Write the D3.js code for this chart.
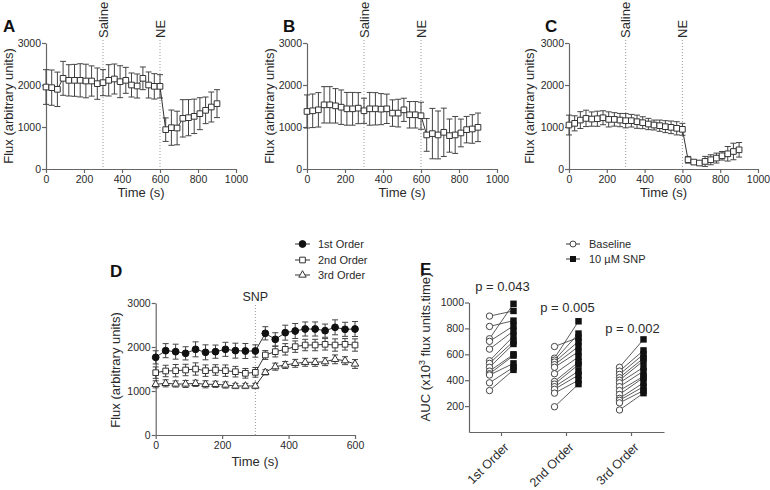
<!DOCTYPE html>
<html><head><meta charset="utf-8">
<script src="https://cdn.jsdelivr.net/npm/d3@7"></script>
<style>body{margin:0;background:#fff} text{font-family:"Liberation Sans",Arial,sans-serif}</style>
</head><body><svg id="c" width="770" height="490"></svg>
<script>
// ---------- DATA ----------
const timesABC = [0,30,60,90,120,150,180,210,240,270,300,330,360,390,420,450,480,510,540,570,600,630,660,690,720,750,780,810,840,870,900];
const fluxA = [1952,1937,1897,2159,2111,2111,2111,2095,2095,2032,2056,2111,2143,2079,2111,2000,1976,2159,2000,1968,1968,937,984,976,1206,1222,1254,1317,1397,1476,1556];
const errA  = [413,420,410,404,373,380,395,400,360,373,310,373,357,380,309,286,286,270,310,302,278,280,420,400,445,430,410,380,317,357,333];
const fluxB = [1370,1386,1409,1528,1528,1504,1472,1433,1433,1449,1386,1433,1433,1425,1433,1331,1331,1409,1291,1291,1268,811,843,811,874,795,811,858,937,953,992];
const errB  = [394,400,410,433,433,410,410,390,390,370,300,390,385,370,350,315,330,276,315,315,322,390,600,570,575,395,440,330,315,340,340];
const fluxC = [1047,1087,1165,1205,1189,1197,1220,1181,1181,1165,1150,1150,1126,1102,1071,1047,1031,1008,992,969,945,220,165,142,181,220,260,315,362,417,457];
const errC  = [236,180,200,195,170,180,166,180,160,158,170,150,157,142,134,118,134,142,150,157,142,80,40,30,119,119,118,102,173,197,173];
const eventsABC = [{t:300,label:"Saline"},{t:600,label:"NE"}];

const timesD = [0,30,60,90,120,150,180,210,240,270,300,330,360,390,420,450,480,510,540,570,600];
const order1 = [1765,1917,1894,1856,1947,1879,1894,1947,1917,1909,1909,2311,2174,2326,2364,2409,2409,2371,2447,2402,2409];
const err1   = [150,160,170,150,170,170,150,160,170,170,140,150,150,170,170,160,160,150,170,160,170];
const order2 = [1417,1455,1462,1477,1500,1462,1477,1462,1439,1402,1424,1818,1894,1947,2008,2045,2045,2061,2045,2061,2045];
const err2   = [130,130,140,130,140,130,120,130,120,110,110,100,120,130,130,130,130,130,140,130,140];
const order3 = [1152,1174,1159,1159,1174,1152,1152,1136,1114,1114,1114,1424,1553,1591,1629,1652,1652,1667,1720,1689,1614];
const err3   = [80,80,70,80,70,80,70,70,60,60,60,60,80,80,90,90,90,90,100,90,100];
const seriesDNames = ["1st Order","2nd Order","3rd Order"];

const categoriesE = ["1st Order","2nd Order","3rd Order"];
const base1 = [895,815,720,700,640,550,530,500,470,450,440,380,320];
const snp1  = [935,860,990,820,780,740,700,680,600,590,530,500,480];
const base2 = [660,570,555,540,520,500,450,390,370,350,330,300,195];
const snp2  = [730,855,760,700,660,620,580,540,520,470,440,400,370];
const base3 = [500,470,445,420,400,380,350,320,290,260,245,225,170];
const snp3  = [715,630,600,570,550,500,470,430,420,380,350,320,300];
const pLabels = ["p = 0.043","p = 0.005","p = 0.002"];
const legendE = ["Baseline","10 \u00b5M SNP"];

const ticksABCx = [0,200,400,600,800,1000];
const ticksFlux = [0,1000,2000,3000];
const ticksDx = [0,200,400,600];
const ticksE = [200,400,600,800,1000];

// ---------- HELPERS ----------
const svg = d3.select("#c");
const TXT = "#2a2a2a", AX = "#666", LN = "#333";
const fmt = d3.format("d");

function styleAxis(g, fs){
  g.select(".domain").attr("stroke",AX).attr("stroke-width",1.2);
  g.selectAll(".tick line").attr("stroke",AX).attr("stroke-width",1.2);
  g.selectAll(".tick text").attr("fill",TXT).attr("font-size",fs||10).attr("font-family",null);
}
const sq = d3.symbol().type(d3.symbolSquare).size(32);
const tri = d3.symbol().type(d3.symbolTriangle).size(24);

function marker(sel, type){
  if(type==="circleFill") sel.append("circle").attr("r",3.4).attr("fill","#111").attr("stroke","#111");
  else if(type==="square") sel.append("path").attr("d",sq).attr("fill","#fff").attr("stroke",LN).attr("stroke-width",1);
  else if(type==="tri") sel.append("path").attr("d",tri).attr("fill","#fff").attr("stroke",LN).attr("stroke-width",1);
}

function drawSeries(g, x, y, times, vals, errs, type){
  const cap = 3;
  const eb = g.append("g");
  times.forEach((t,i)=>{
    const cx = x(t), top = y(vals[i]+errs[i]), bot = y(vals[i]-errs[i]);
    eb.append("line").attr("x1",cx).attr("x2",cx).attr("y1",top).attr("y2",bot).attr("stroke","#444").attr("stroke-width",1);
    eb.append("line").attr("x1",cx-cap).attr("x2",cx+cap).attr("y1",top).attr("y2",top).attr("stroke","#444").attr("stroke-width",1);
    eb.append("line").attr("x1",cx-cap).attr("x2",cx+cap).attr("y1",bot).attr("y2",bot).attr("stroke","#444").attr("stroke-width",1);
  });
  g.append("path").attr("d", d3.line().x((d,i)=>x(times[i])).y(d=>y(d))(vals))
    .attr("fill","none").attr("stroke",LN).attr("stroke-width",1);
  times.forEach((t,i)=>{
    const m = g.append("g").attr("transform",`translate(${x(t)},${y(vals[i])})`);
    marker(m,type);
  });
}

function yTitle(xp, yc, txt){
  svg.append("text").attr("transform",`translate(${xp},${yc}) rotate(-90)`)
    .attr("text-anchor","middle").attr("font-size",13).attr("fill",TXT).text(txt);
}

// ---------- PANELS A-C ----------
const panelsABC = [
  {letter:"A", lx:3,   xr:[46,236],  flux:fluxA, err:errA, ytx:13},
  {letter:"B", lx:283, xr:[307,497], flux:fluxB, err:errB, ytx:274},
  {letter:"C", lx:545, xr:[569,758], flux:fluxC, err:errC, ytx:534}
];
panelsABC.forEach(p=>{
  const x = d3.scaleLinear().domain([0,1000]).range(p.xr);
  const y = d3.scaleLinear().domain([0,3000]).range([169,43]);
  const g = svg.append("g");
  eventsABC.forEach(ev=>{
    g.append("line").attr("x1",x(ev.t)).attr("x2",x(ev.t)).attr("y1",40).attr("y2",169)
      .attr("stroke","#999").attr("stroke-width",1).attr("stroke-dasharray","1,2");
    g.append("text").attr("transform",`translate(${x(ev.t)},38) rotate(-90)`)
      .attr("dy","0.36em").attr("font-size",13).attr("fill",TXT).text(ev.label);
  });
  const gx = g.append("g").attr("transform","translate(0,169)")
    .call(d3.axisBottom(x).tickValues(ticksABCx).tickFormat(fmt).tickSize(4).tickPadding(3).tickSizeOuter(0));
  styleAxis(gx,10.5);
  const gy = g.append("g").attr("transform",`translate(${p.xr[0]},0)`)
    .call(d3.axisLeft(y).tickValues(ticksFlux).tickFormat(fmt).tickSize(4).tickPadding(1).tickSizeOuter(0));
  styleAxis(gy,10.5);
  drawSeries(g, x, y, timesABC, p.flux, p.err, "square");
  g.append("text").attr("x",(p.xr[0]+p.xr[1])/2).attr("y",197).attr("text-anchor","middle")
    .attr("font-size",13).attr("fill",TXT).text("Time (s)");
  g.append("text").attr("x",p.lx).attr("y",32).attr("font-size",17).attr("font-weight","bold").attr("fill","#111").text(p.letter);
  yTitle(p.ytx, 106, "Flux (arbitrary units)");
});

// ---------- PANEL D ----------
{
  const x = d3.scaleLinear().domain([0,600]).range([155.7,355]);
  const y = d3.scaleLinear().domain([0,3000]).range([435,303]);
  const g = svg.append("g");
  g.append("line").attr("x1",x(300)).attr("x2",x(300)).attr("y1",305).attr("y2",435)
    .attr("stroke","#999").attr("stroke-dasharray","1,2");
  g.append("text").attr("x",x(300)).attr("y",301).attr("text-anchor","middle").attr("font-size",12.5).attr("fill",TXT).text("SNP");
  const gx = g.append("g").attr("transform","translate(0,435)")
    .call(d3.axisBottom(x).tickValues(ticksDx).tickFormat(fmt).tickSize(4).tickPadding(3).tickSizeOuter(0));
  styleAxis(gx,10.5);
  const gy = g.append("g").attr("transform","translate(155.7,0)")
    .call(d3.axisLeft(y).tickValues(ticksFlux).tickFormat(fmt).tickSize(4).tickPadding(1).tickSizeOuter(0));
  styleAxis(gy,10.5);
  drawSeries(g, x, y, timesD, order3, err3, "tri");
  drawSeries(g, x, y, timesD, order2, err2, "square");
  drawSeries(g, x, y, timesD, order1, err1, "circleFill");
  g.append("text").attr("x",255).attr("y",466).attr("text-anchor","middle").attr("font-size",13).attr("fill",TXT).text("Time (s)");
  g.append("text").attr("x",110).attr("y",277).attr("font-size",17).attr("font-weight","bold").attr("fill","#111").text("D");
  yTitle(120, 370, "Flux (arbitrary units)");
  const types = ["circleFill","square","tri"];
  const rows = [244,260,275];
  seriesDNames.forEach((n,i)=>{
    g.append("line").attr("x1",295).attr("x2",310).attr("y1",rows[i]).attr("y2",rows[i]).attr("stroke",LN);
    marker(g.append("g").attr("transform",`translate(302.5,${rows[i]})`), types[i]);
    g.append("text").attr("x",318).attr("y",rows[i]).attr("dy","0.35em").attr("font-size",11).attr("fill",TXT).text(n);
  });
}

// ---------- PANEL E ----------
{
  const x = d3.scaleBand().domain(categoriesE).range([469,664]);
  const y = d3.scaleLinear().domain([0,1000]).range([432,302.5]);
  const g = svg.append("g");
  const gx = g.append("g").attr("transform","translate(0,432)")
    .call(d3.axisBottom(x).tickSize(4).tickPadding(3).tickSizeOuter(0));
  styleAxis(gx,12.5);
  gx.selectAll(".tick text").attr("text-anchor","end").attr("dy","0").attr("dx","0")
    .attr("transform","translate(3,11) rotate(-45)");
  const gy = g.append("g").attr("transform","translate(469,0)")
    .call(d3.axisLeft(y).tickValues(ticksE).tickFormat(fmt).tickSize(4).tickPadding(1).tickSizeOuter(0));
  styleAxis(gy,10.5);
  const bases = [base1,base2,base3], snps = [snp1,snp2,snp3];
  const pY = [291,312,333];
  categoriesE.forEach((c,k)=>{
    const cx = x(c) + x.bandwidth()/2;
    const xb = cx-12, xs = cx+12;
    bases[k].forEach((b,i)=>{
      g.append("line").attr("x1",xb).attr("x2",xs).attr("y1",y(b)).attr("y2",y(snps[k][i])).attr("stroke",LN).attr("stroke-width",0.8);
    });
    snps[k].forEach(s=>{
      g.append("path").attr("transform",`translate(${xs},${y(s)})`).attr("d",d3.symbol().type(d3.symbolSquare).size(42)).attr("fill","#111");
    });
    bases[k].forEach(b=>{
      g.append("circle").attr("cx",xb).attr("cy",y(b)).attr("r",3.2).attr("fill","#fff").attr("stroke","#444").attr("stroke-width",1);
    });
    g.append("text").attr("x",cx+1).attr("y",pY[k]).attr("text-anchor","middle").attr("font-size",13).attr("fill",TXT).text(pLabels[k]);
  });
  g.append("text").attr("x",420).attr("y",275).attr("font-size",17).attr("font-weight","bold").attr("fill","#111").text("E");
  const t = g.append("text").attr("transform","translate(430,347) rotate(-90)").attr("text-anchor","middle")
    .attr("font-size",13).attr("fill",TXT);
  t.append("tspan").text("AUC (x10");
  t.append("tspan").attr("baseline-shift","super").attr("font-size",9).text("3");
  t.append("tspan").text(" flux units.time)");
  const rows = [244,259];
  legendE.forEach((n,i)=>{
    g.append("line").attr("x1",566).attr("x2",580).attr("y1",rows[i]).attr("y2",rows[i]).attr("stroke",LN);
    if(i===0) g.append("circle").attr("cx",573).attr("cy",rows[i]).attr("r",3).attr("fill","#fff").attr("stroke","#444");
    else g.append("path").attr("transform",`translate(573,${rows[i]})`).attr("d",d3.symbol().type(d3.symbolSquare).size(36)).attr("fill","#111");
    g.append("text").attr("x",589).attr("y",rows[i]).attr("dy","0.35em").attr("font-size",11).attr("fill",TXT).text(n);
  });
}
</script></body></html>
